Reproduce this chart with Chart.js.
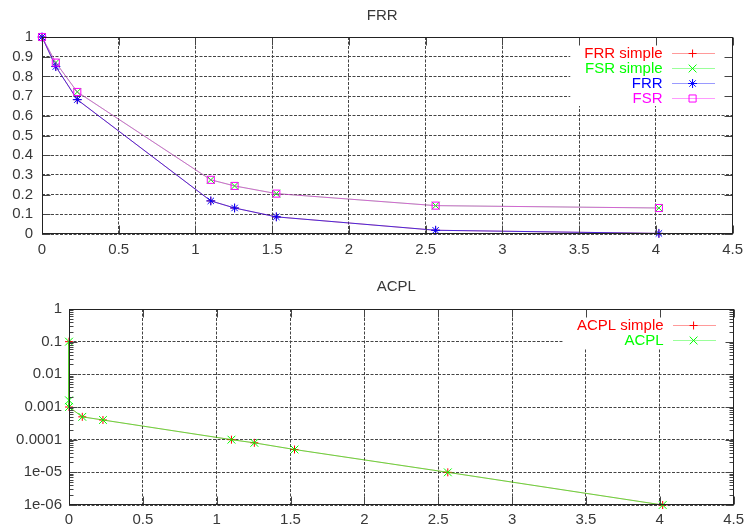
<!DOCTYPE html>
<html><head><meta charset="utf-8">
<script src="https://cdn.jsdelivr.net/npm/chart.js@4.4.1/dist/chart.umd.min.js"></script>
<style>
html,body{margin:0;padding:0;background:#fff;}
#wrap{position:relative;width:750px;height:529px;overflow:hidden;}
canvas{position:absolute;left:0;}
</style></head><body>
<div id="wrap">
<canvas id="c1" width="750" height="262" style="top:0px"></canvas>
<canvas id="c2" width="750" height="267" style="top:262px"></canvas>
</div>
<script>
// ---------- data ----------
const xValues   = [0, 0.09, 0.23, 1.1, 1.255, 1.527, 2.565, 4.02];
const frrSimple = [1, 0.85, 0.682, 0.168, 0.132, 0.087, 0.019, 0.003];
const fsrSimple = [1, 0.87, 0.721, 0.275, 0.244, 0.205, 0.144, 0.132];
const frr       = [1, 0.85, 0.682, 0.168, 0.132, 0.087, 0.019, 0.003];
const fsr       = [1, 0.87, 0.721, 0.275, 0.244, 0.205, 0.144, 0.132];

const acplSimpleX = [0, 0, 0.09, 0.23, 1.1, 1.255, 1.527, 2.565, 4.02];
const acplSimple  = [0.1, 0.001, 5e-4, 4e-4, 1e-4, 8e-5, 5e-5, 1e-5, 1e-6];
const acplX       = [0, 0, 0, 0.09, 0.23, 1.1, 1.255, 1.527, 2.565, 4.02];
const acplValues  = [0.1, 0.0016, 0.001, 5e-4, 4e-4, 1e-4, 8e-5, 5e-5, 1e-5, 1e-6];

const xTicks      = [0, 0.5, 1, 1.5, 2, 2.5, 3, 3.5, 4, 4.5];
const xTickLabels = ['0', '0.5', '1', '1.5', '2', '2.5', '3', '3.5', '4', '4.5'];
const frrYTicks      = [0, 0.1, 0.2, 0.3, 0.4, 0.5, 0.6, 0.7, 0.8, 0.9, 1];
const frrYTickLabels = ['0', '0.1', '0.2', '0.3', '0.4', '0.5', '0.6', '0.7', '0.8', '0.9', '1'];
const acplYTicks      = [1e-6, 1e-5, 1e-4, 1e-3, 1e-2, 1e-1, 1];
const acplYTickLabels = ['1e-06', '1e-05', '0.0001', '0.001', '0.01', '0.1', '1'];

// ---------- helpers ----------
const FAMILY = "'Liberation Sans', Arial, sans-serif";
const FONT = {family: FAMILY, size: 15};
const TXT = '#383838';

const keyStyles = {
  'FRR simple':  {text: '#ff0000', line: '#ff9a9a'},
  'FSR simple':  {text: '#00ff00', line: '#9aff9a'},
  'FRR':         {text: '#0000ff', line: '#9a9aff'},
  'FSR':         {text: '#ff00ff', line: '#ff9aff'},
  'ACPL simple': {text: '#ff0000', line: '#ff9a9a'},
  'ACPL':        {text: '#00ff00', line: '#9aff9a'}
};

function pts(xs, ys) { return ys.map((y, i) => ({x: xs[i], y: y})); }
function ds(label, xs, ys, lineColor, style, radius, order) {
  return {
    label: label, data: pts(xs, ys), borderColor: lineColor, backgroundColor: 'rgba(0,0,0,0)',
    pointBorderColor: keyStyles[label].text, pointBackgroundColor: 'rgba(0,0,0,0)', pointStyle: style,
    pointRadius: radius, pointBorderWidth: 1, borderWidth: 1, tension: 0, fill: false,
    clip: false, order: order
  };
}
function marker(ctx, style, x, y, r) {
  ctx.beginPath();
  if (style === 'cross' || style === 'star') {
    ctx.moveTo(x - r, y); ctx.lineTo(x + r, y); ctx.moveTo(x, y - r); ctx.lineTo(x, y + r);
  }
  if (style === 'crossRot' || style === 'star') {
    const o = r * Math.SQRT1_2;
    ctx.moveTo(x - o, y - o); ctx.lineTo(x + o, y + o); ctx.moveTo(x - o, y + o); ctx.lineTo(x + o, y - o);
  }
  if (style === 'rect') { const s = r * Math.SQRT1_2; ctx.rect(x - s, y - s, 2 * s, 2 * s); }
  ctx.stroke();
}

const gnuplotPlugin = {
  id: 'gp',
  beforeDraw(chart) {
    const ctx = chart.ctx;
    ctx.save(); ctx.fillStyle = '#fff'; ctx.fillRect(0, 0, chart.width, chart.height); ctx.restore();
  },
  afterDraw(chart, args, opts) {
    const ctx = chart.ctx, a = chart.chartArea;
    const L = Math.round(a.left) + 0.5, R = Math.round(a.right) - 0.5;
    const T = Math.round(a.top) + 0.5, B = Math.round(a.bottom) - 0.5;
    ctx.save();
    // title
    ctx.font = '15px ' + FAMILY; ctx.fillStyle = TXT; ctx.textAlign = 'center'; ctx.textBaseline = 'middle';
    ctx.fillText(opts.title, (a.left + a.right) / 2 - 5, opts.titleY);
    // legend
    ctx.font = '15px ' + FAMILY;
    const rows = chart.data.datasets;
    const textRight = a.right - 70;
    const maxW = Math.max(...rows.map(d => ctx.measureText(d.label).width));
    const boxL = textRight - maxW - 14;
    const rowY0 = a.top + 15.5;
    const boxB = rowY0 + 15 * (rows.length - 1) + 8.5;
    ctx.fillStyle = '#fff';
    ctx.fillRect(boxL, T, R - boxL, boxB - T);
    ctx.textAlign = 'right';
    rows.forEach((d, i) => {
      const ks = keyStyles[d.label];
      const y = rowY0 + 15 * i;
      const yr = Math.round(y);
      ctx.fillStyle = ks.text;
      ctx.fillText(d.label, textRight, y + 1);
      ctx.fillStyle = ks.line;
      ctx.fillRect(Math.round(a.right - 61), yr, 43, 1);
      ctx.lineWidth = 1; ctx.setLineDash([]);
      ctx.strokeStyle = ks.text;
      marker(ctx, d.pointStyle, a.right - 40, yr + 0.5, d.pointRadius);
    });
    // tics
    ctx.strokeStyle = '#444'; ctx.lineWidth = 1; ctx.setLineDash([]);
    ctx.beginPath();
    const xs = chart.scales.x, ys = chart.scales.y;
    xs.ticks.forEach(t => {
      const px = Math.round(xs.getPixelForValue(t.value)) + 0.5;
      ctx.moveTo(px, B); ctx.lineTo(px, B - 8); ctx.moveTo(px, T); ctx.lineTo(px, T + 8);
    });
    ys.ticks.forEach(t => {
      const py = Math.round(ys.getPixelForValue(t.value)) + 0.5;
      ctx.moveTo(L, py); ctx.lineTo(L + 8, py); ctx.moveTo(R, py); ctx.lineTo(R - 8, py);
    });
    if (ys.type === 'logarithmic') {
      for (let d = -6; d < 0; d++) {
        for (let k = 2; k <= 9; k++) {
          const py = Math.round(ys.getPixelForValue(k * Math.pow(10, d))) + 0.5;
          ctx.moveTo(L, py); ctx.lineTo(L + 4, py); ctx.moveTo(R, py); ctx.lineTo(R - 4, py);
        }
      }
    }
    ctx.stroke();
    // frame
    ctx.strokeStyle = '#222';
    ctx.strokeRect(L, T, R - L, B - T);
    ctx.restore();
  }
};

function xScale(height, pad) {
  return {
    type: 'linear', min: 0, max: 4.5,
    afterBuildTicks: s => { s.ticks = xTicks.map(v => ({value: v})); },
    afterFit: s => { s.height = height; },
    ticks: {callback: (v, i) => xTickLabels[i], color: TXT, font: FONT, padding: pad, maxRotation: 0, autoSkip: false},
    grid: {color: '#444', lineWidth: 1, drawTicks: false},
    border: {display: false, dash: [3, 1.5]}
  };
}

// ---------- top chart ----------
new Chart(document.getElementById('c1'), {
  type: 'line',
  data: {
    datasets: [
      ds('FRR simple', xValues, frrSimple, 'rgba(255,0,0,0.5)', 'cross', 4, 4),
      ds('FSR simple', xValues, fsrSimple, 'rgba(0,255,0,0.45)', 'crossRot', 5.5, 3),
      ds('FRR', xValues, frr, 'rgba(0,0,255,0.7)', 'star', 4.5, 2),
      ds('FSR', xValues, fsr, 'rgba(255,0,255,0.6)', 'rect', 5, 1)
    ]
  },
  options: {
    responsive: false, animation: false, events: [],
    layout: {padding: {top: 37, right: 13, left: 0, bottom: 0}},
    scales: {
      x: xScale(28, 7),
      y: {
        type: 'linear', min: 0, max: 1,
        afterBuildTicks: s => { s.ticks = frrYTicks.map(v => ({value: v})); },
        afterFit: s => { s.width = 42; },
        ticks: {callback: (v, i) => frrYTickLabels[i], color: TXT, font: FONT, padding: 9, autoSkip: false},
        grid: {color: '#444', lineWidth: 1, drawTicks: false},
        border: {display: false, dash: [3, 1.5]}
      }
    },
    plugins: {legend: {display: false}, tooltip: {enabled: false}, gp: {title: 'FRR', titleY: 16}}
  },
  plugins: [gnuplotPlugin]
});

// ---------- bottom chart ----------
new Chart(document.getElementById('c2'), {
  type: 'line',
  data: {
    datasets: [
      ds('ACPL simple', acplSimpleX, acplSimple, 'rgba(255,0,0,0.4)', 'cross', 4, 2),
      ds('ACPL', acplX, acplValues, 'rgba(0,255,0,0.6)', 'crossRot', 5.5, 1)
    ]
  },
  options: {
    responsive: false, animation: false, events: [],
    layout: {padding: {top: 47, right: 13, left: 0, bottom: 0}},
    scales: {
      x: xScale(24, 6),
      y: {
        type: 'logarithmic', min: 1e-6, max: 1,
        afterBuildTicks: s => { s.ticks = acplYTicks.map(v => ({value: v})); },
        afterFit: s => { s.width = 69; },
        ticks: {callback: (v, i) => acplYTickLabels[i], color: TXT, font: FONT, padding: 7, autoSkip: false},
        grid: {color: '#444', lineWidth: 1, drawTicks: false},
        border: {display: false, dash: [3, 1.5]}
      }
    },
    plugins: {legend: {display: false}, tooltip: {enabled: false}, gp: {title: 'ACPL', titleY: 25}}
  },
  plugins: [gnuplotPlugin]
});
</script>
</body></html>
